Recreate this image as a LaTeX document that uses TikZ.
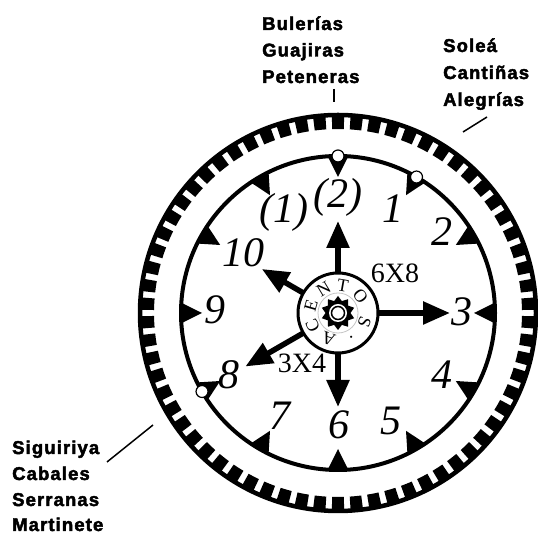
\documentclass[tikz,border=0pt]{standalone}
\usepackage{fontspec}
\setmainfont{Liberation Serif}
\newfontfamily\lblfont[LetterSpace=6, FakeBold=2.5]{Liberation Sans Bold}
\usetikzlibrary{arrows.meta}
\tikzset{
  num/.style={font=\fontsize{42}{42}\selectfont\itshape, inner sep=0pt},
  meter/.style={font=\fontsize{28}{28}\selectfont, inner sep=0pt},
  hubl/.style={font=\fontsize{18}{18}\selectfont, inner sep=0pt},
  lbl/.style={font=\fontsize{18.5}{18.5}\selectfont\lblfont, inner sep=0pt, anchor=base west},
  arr/.style={line width=5.5pt, -{Triangle[length=27pt,width=22pt]}},
  pointer/.style={line width=1.5pt},
}
\begin{document}
\begin{tikzpicture}[x=1pt,y=1pt]
\useasboundingbox (0,0) rectangle (538,534);
\coordinate (C) at (338,221);
% outer toothed ring
\draw[line width=4.5pt] (C) circle[radius=198pt];
\foreach \i in {0,...,65}{
  \pgfmathsetmacro{\aa}{90+\i*5.454545-1.8}
  \pgfmathsetmacro{\ab}{90+\i*5.454545+1.8}
  \fill[shift={(C)}] (\aa:184) arc[start angle=\aa, end angle=\ab, radius=184pt]
     -- (\ab:198) arc[start angle=\ab, end angle=\aa, radius=198pt] -- cycle;
}
% inner circle
\draw[line width=4pt] (C) circle[radius=157pt];
% markers
\foreach \a in {0,30,...,330}{
  \fill[shift={(C)}] (\a:136) -- ({\a+3.9}:158) -- ({\a-3.9}:158) -- cycle;
}
\foreach \a in {90,60,210}{
  \draw[line width=1.2pt, fill=white, shift={(C)}] (\a:157) circle[radius=6pt];
}
% arrows
\draw[arr, shift={(C)}] (90:38) -- (90:92);
\draw[arr, shift={(C)}] (0:38) -- (0:112);
\draw[arr, shift={(C)}] (270:38) -- (270:94);
\draw[arr, shift={(C)}] (210:38) -- (210:107);
\draw[arr, shift={(C)}] (150:38) -- (150:88);
% hub
\draw[line width=3pt, fill=white] (C) circle[radius=40pt];
\fill[shift={(C)}] (90:17) \foreach \k in {1,...,19}{ -- ({90+\k*18}:{ifthenelse(mod(\k,2)==0,17,12.5)}) } -- cycle;
\fill[white] (C) circle[radius=9pt];
\draw[line width=1.5pt, fill=white] (C) circle[radius=6.5pt];
\draw[gray!45, line width=0.8pt] (C) circle[radius=20pt];
\foreach \L/\a [count=\n] in {A/250, C/206, E/164, N/121, T/80, O/37, S/-20, ./-62}{
  \node[hubl, rotate={\a-90}] (hub\n) at ([shift={(\a:28)}]C) {\L};
}
% numbers
\node[num] (n12) at (338,337) {(2)};
\node[num] (n11) at (284,322) {(1)};
\node[num] (n10) at (243,281) {10};
\node[num] (n9) at (215,224) {9};
\node[num] (n8) at (229,159) {8};
\node[num] (n7) at (280,118) {7};
\node[num] (n6) at (339,109) {6};
\node[num] (n5) at (391,113) {5};
\node[num] (n4) at (442,159) {4};
\node[num] (n3) at (462,222) {3};
\node[num] (n2) at (442,302) {2};
\node[num] (n1) at (393,325) {1};
\node[meter] (m68) at (395,261) {6X8};
\node[meter] (m34) at (302,171) {3X4};
% labels
\node[lbl] (bul) at (262,504) {Bulerías};
\node[lbl] (gua) at (262,477.5) {Guajiras};
\node[lbl] (pet) at (262,451) {Peteneras};
\node[lbl] (sol) at (443,482) {Soleá};
\node[lbl] (can) at (443,455) {Cantiñas};
\node[lbl] (ale) at (443,428) {Alegrías};
\node[lbl] (sig) at (12,80) {Siguiriya};
\node[lbl] (cab) at (12,54) {Cabales};
\node[lbl] (ser) at (12,28) {Serranas};
\node[lbl] (mar) at (12,3) {Martinete};
% pointer lines
\coordinate (t1) at (334,445); \coordinate (t2) at (334,432);
\draw[line width=2pt] (t1) -- (t2);
\coordinate (s1) at (463,402); \coordinate (s2) at (487,417);
\draw[pointer] (s1) -- (s2);
\coordinate (g1) at (107,72); \coordinate (g2) at (153,109);
\draw[pointer] (g1) -- (g2);
\end{tikzpicture}
\end{document}
